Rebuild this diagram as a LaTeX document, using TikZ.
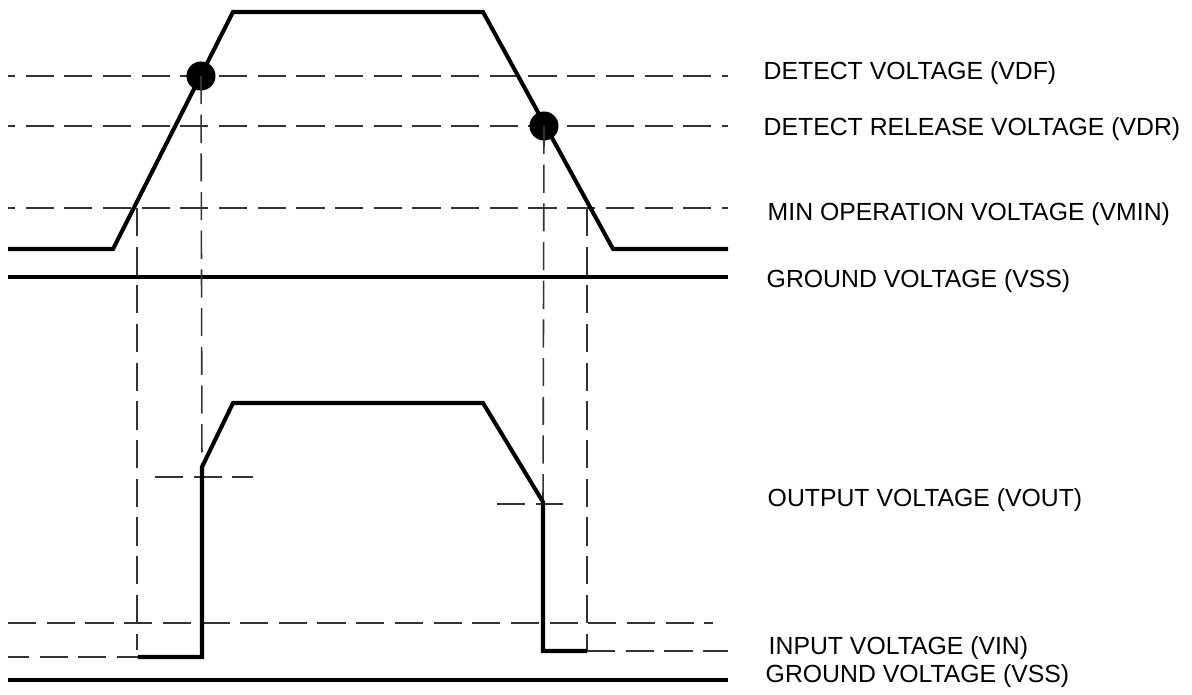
\documentclass[tikz,border=0pt]{standalone}
\usepackage{fontspec}
\setmainfont{Liberation Sans}
\usetikzlibrary{positioning}

\begin{document}
\begin{tikzpicture}[x=0.01cm, y=-0.01cm,
    wave/.style={line width=1.15pt, black, line join=miter},
    guide/.style={line width=0.45pt, black!80, dash pattern=on 8pt off 3pt},
    dot/.style={circle, fill=black, inner sep=0pt, minimum size=0.29cm},
    lbl/.style={anchor=base west, inner sep=0pt, font=\fontsize{7.05}{8}\selectfont}]
  \useasboundingbox (0,0) rectangle (1192,695);

  %% Level guides (input side)
  \draw[guide, dash phase=6pt] (8,76)  -- (728,76);
  \draw[guide, dash phase=6pt] (8,126) -- (728,126);
  \draw[guide, dash phase=6pt] (8,208) -- (728,208);

  %% Input voltage and ground
  \draw[wave] (8,249) -- (113,249) -- (233,12) -- (483,12) -- (613,249) -- (728,249);
  \draw[wave] (8,277) -- (728,277);

  %% Crossing points
  \node[dot] (vdfdot) at (201,76) {};
  \node[dot] (vdrdot) at (544,126) {};

  %% Vertical projections
  \draw[guide] (137,208) -- (137,650);
  \draw[guide] (vdfdot.center) -- (202,467);
  \draw[guide] (vdrdot.center) -- (543,502);
  \draw[guide] (587,208) -- (587,651);

  %% Output side guides
  \draw[guide] (8,623) -- (713,623);
  \draw[guide, dash phase=2pt] (8,657) -- (138,657);
  \draw[guide] (587,651) -- (728,651);
  \draw[guide] (155,477) -- (253,477);
  \draw[guide] (497,504) -- (563,504);

  %% Output voltage and ground
  \draw[wave] (138,657) -- (202,657) -- (202,467) -- (233,403) -- (483,403)
    -- (543,502) -- (543,651) -- (587,651);
  \draw[wave] (8,680) -- (728,680);

  %% Labels
  \node[lbl] (vdf)   at (763,80)  {DETECT VOLTAGE (VDF)};
  \node[lbl] (vdr)   at (763,136) {DETECT RELEASE VOLTAGE (VDR)};
  \node[lbl] (vmin)  at (767,221) {MIN OPERATION VOLTAGE (VMIN)};
  \node[lbl] (vss)   at (766,288) {GROUND VOLTAGE (VSS)};
  \node[lbl] (vout)  at (767,507) {OUTPUT VOLTAGE (VOUT)};
  \node[lbl] (vin)   at (768,654) {INPUT VOLTAGE (VIN)};
  \node[lbl] (vssb)  at (765,682) {GROUND VOLTAGE (VSS)};
\end{tikzpicture}
\end{document}
